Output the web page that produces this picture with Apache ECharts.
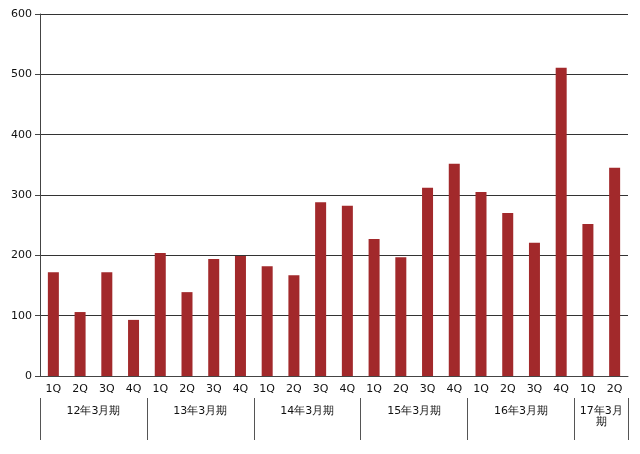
<!DOCTYPE html><html><head><meta charset="utf-8"><script src="https://cdn.jsdelivr.net/npm/echarts@6/dist/echarts.min.js"></script></head><body style="margin:0"><div id="c" style="width:640px;height:454px"></div><script>
const quarters=['1Q','2Q','3Q','4Q','1Q','2Q','3Q','4Q','1Q','2Q','3Q','4Q','1Q','2Q','3Q','4Q','1Q','2Q','3Q','4Q','1Q','2Q'];
const values=[172,106,172,93,204,139,194,199,182,167,288,282,227,197,312,352,305,270,221,511,252,345];
const fiscalYears=['12年3月期','13年3月期','14年3月期','15年3月期','16年3月期','17年3月\n期'];
const fiscalCenters=[2,6,10,14,18,21];
const fiscalBounds=[0,4,8,12,16,20,22];
const ch=echarts.init(document.getElementById('c'));
ch.setOption({animation:false,
grid:{left:40,right:12,top:14,bottom:78},
xAxis:[{type:'category',data:quarters,axisLine:{lineStyle:{color:'#444'}},axisTick:{length:22,lineStyle:{color:'#555'}},axisLabel:{color:'#111',fontSize:11,margin:8,fontFamily:'DejaVu Sans'}},
{type:'value',min:0,max:22,position:'bottom',offset:22,axisLine:{show:false},splitLine:{show:false},
axisTick:{customValues:fiscalBounds,length:42,lineStyle:{color:'#555'}},
axisLabel:{customValues:fiscalCenters,color:'#111',fontSize:11,margin:8,fontFamily:'DejaVu Sans',formatter:v=>fiscalYears[fiscalCenters.indexOf(v)]||''}}],
yAxis:{type:'value',min:0,max:600,interval:100,axisLine:{show:true,lineStyle:{color:'#444'}},axisTick:{show:true,lineStyle:{color:'#444'}},axisLabel:{color:'#111',fontSize:11,fontFamily:'DejaVu Sans'},splitLine:{lineStyle:{color:'#333'}}},
series:[{type:'bar',data:values,barWidth:11,itemStyle:{color:'#a2292b'}}]});
</script></body></html>
